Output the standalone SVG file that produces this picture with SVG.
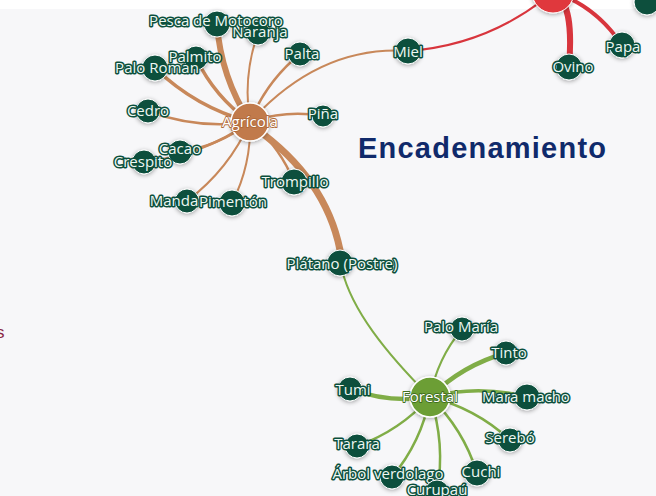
<svg xmlns="http://www.w3.org/2000/svg" width="656" height="496" viewBox="0 0 656 496">
<defs>
<filter id="sh" x="-50%" y="-50%" width="200%" height="200%">
<feDropShadow dx="0" dy="1" stdDeviation="2.2" flood-color="#000" flood-opacity="0.35"/>
</filter>
<style>
.ag{fill:none;stroke:#c8885a;stroke-linecap:round}
.fo{fill:none;stroke:#80ad47;stroke-linecap:round}
.rd{fill:none;stroke:#d8353d;stroke-linecap:round}
.n{fill:#0b4f3c;stroke:#ffffff;stroke-width:1;filter:url(#sh)}
.l{font-family:"Open Sans","Noto Sans",sans-serif;font-size:15px;fill:#eef7f3;stroke:#0b4f3c;stroke-width:3;paint-order:stroke;stroke-linejoin:round;text-anchor:middle}
.hl{font-family:"Open Sans","Noto Sans",sans-serif;font-size:15px;fill:#ffffff;stroke-width:1.8;paint-order:stroke;stroke-linejoin:round;text-anchor:middle}
</style>
</defs>
<rect x="0" y="0" width="656" height="496" fill="#f7f7f9"/>
<rect x="0" y="0" width="656" height="9" fill="#ffffff"/>
<g id="connectors">
<path class="ag" stroke-width="6" d="M250 122 A207 207 0 0 1 217 24"/>
<path class="ag" stroke-width="2" d="M250 122 A179 179 0 0 1 258 33"/>
<path class="ag" stroke-width="2.5" d="M250 122 A169 169 0 0 1 300 54"/>
<path class="ag" stroke-width="3.5" d="M250 122 A167 167 0 0 1 196 58"/>
<path class="ag" stroke-width="3.5" d="M250 122 A219 219 0 0 1 155 68"/>
<path class="ag" stroke-width="2.5" d="M250 122 A205 205 0 0 1 148 111"/>
<path class="ag" stroke-width="2.5" d="M250 122 A146 146 0 0 1 323 116"/>
<path class="ag" stroke-width="2.5" d="M250 122 A152 152 0 0 1 180 152"/>
<path class="ag" stroke-width="2.5" d="M250 122 A227 227 0 0 1 144 162"/>
<path class="ag" stroke-width="2.5" d="M250 122 A149 149 0 0 1 294 182"/>
<path class="ag" stroke-width="2" d="M250 122 A202 202 0 0 1 187 201"/>
<path class="ag" stroke-width="2" d="M250 122 A166 166 0 0 1 232 203"/>
<path class="ag" stroke-width="2" d="M250 122 Q320 45 408 51"/>
<path class="ag" stroke-width="7" d="M255 128 C300 160 330 200 340 250"/>
<path class="rd" stroke-width="2" d="M553 -8 Q490 45 408 51"/>
<path class="rd" stroke-width="6" d="M553 -8 C570 0 572 30 569 67"/>
<path class="rd" stroke-width="4" d="M553 -8 Q595 5 622 45"/>
<path class="fo" stroke-width="2" d="M342 270 C352 310 385 352 430 397"/>
<path class="fo" stroke-width="2" d="M430 397 A150 150 0 0 1 462 329"/>
<path class="fo" stroke-width="4.5" d="M430 397 A176 176 0 0 1 506 353"/>
<path class="fo" stroke-width="3.5" d="M430 397 A194 194 0 0 1 527 397"/>
<path class="fo" stroke-width="2.5" d="M430 397 A182 182 0 0 1 510 440"/>
<path class="fo" stroke-width="2.5" d="M430 397 A179 179 0 0 1 477 473"/>
<path class="fo" stroke-width="2.5" d="M430 397 A191 191 0 0 1 437 492"/>
<path class="fo" stroke-width="2.5" d="M430 397 A177 177 0 0 1 392 477"/>
<path class="fo" stroke-width="2.5" d="M430 397 A176 176 0 0 1 357 446"/>
<path class="fo" stroke-width="4.5" d="M430 397 A161 161 0 0 1 350 389"/>
</g>
<g id="n-red"><circle cx="553" cy="-8" r="21" fill="#e0393d" stroke="#fff" stroke-width="1" filter="url(#sh)"/></g>
<g id="n-topright"><circle class="n" cx="647" cy="2" r="13"/></g>
<g id="n-naranja"><circle class="n" cx="258" cy="33" r="12"/><text class="l" x="260" y="32" dy="0.35em">Naranja</text></g>
<g id="n-pesca"><circle class="n" cx="217" cy="24" r="13"/><text class="l" x="216" y="21" dy="0.35em">Pesca de Motocoro</text></g>
<g id="n-palta"><circle class="n" cx="300" cy="54" r="12"/><text class="l" x="302" y="54" dy="0.35em">Palta</text></g>
<g id="n-palmito"><circle class="n" cx="196" cy="58" r="12"/><text class="l" x="195" y="57" dy="0.35em">Palmito</text></g>
<g id="n-paloroman"><circle class="n" cx="155" cy="68" r="13"/><text class="l" x="157" y="68" dy="0.35em">Palo Roman</text></g>
<g id="n-cedro"><circle class="n" cx="148" cy="111" r="12"/><text class="l" x="148" y="111" dy="0.35em">Cedro</text></g>
<g id="n-pina"><circle class="n" cx="323" cy="116" r="11"/><text class="l" x="323" y="114" dy="0.35em">Piña</text></g>
<g id="n-cacao"><circle class="n" cx="180" cy="152" r="12"/><text class="l" x="180" y="149" dy="0.35em">Cacao</text></g>
<g id="n-crespito"><circle class="n" cx="144" cy="162" r="12"/><text class="l" x="143" y="162" dy="0.35em">Crespito</text></g>
<g id="n-trompillo"><circle class="n" cx="294" cy="182" r="13"/><text class="l" x="295" y="182" dy="0.35em">Trompillo</text></g>
<g id="n-manda"><circle class="n" cx="187" cy="201" r="12"/><text class="l" x="174" y="201" dy="0.35em">Manda</text></g>
<g id="n-pimenton"><circle class="n" cx="232" cy="203" r="13"/><text class="l" x="233" y="202" dy="0.35em">Pimentón</text></g>
<g id="n-agricola"><circle cx="250" cy="122" r="19" fill="#c17a4b" stroke="#fff" stroke-width="1.5" filter="url(#sh)"/><text class="hl" x="250" y="122" dy="0.35em" stroke="#b06a3a">Agrícola</text></g>
<g id="n-miel"><circle class="n" cx="408" cy="51" r="13"/><text class="l" x="408" y="52" dy="0.35em">Miel</text></g>
<g id="n-ovino"><circle class="n" cx="569" cy="67" r="13"/><text class="l" x="573" y="67" dy="0.35em">Ovino</text></g>
<g id="n-papa"><circle class="n" cx="622" cy="45" r="13"/><text class="l" x="623" y="47" dy="0.35em">Papa</text></g>
<g id="n-platano"><circle class="n" cx="340" cy="263" r="13"/><text class="l" x="342" y="264" dy="0.35em">Plátano (Postre)</text></g>
<g id="n-forestal"><circle cx="430" cy="397" r="20" fill="#6c9e34" stroke="#fff" stroke-width="1.5" filter="url(#sh)"/><text class="hl" x="430" y="397" dy="0.35em" stroke="#3f6f1f">Forestal</text></g>
<g id="n-palomaria"><circle class="n" cx="462" cy="329" r="12"/><text class="l" x="461" y="327" dy="0.35em">Palo María</text></g>
<g id="n-tinto"><circle class="n" cx="506" cy="353" r="12"/><text class="l" x="509" y="353" dy="0.35em">Tinto</text></g>
<g id="n-maramacho"><circle class="n" cx="527" cy="397" r="13"/><text class="l" x="526" y="397" dy="0.35em">Mara macho</text></g>
<g id="n-tumi"><circle class="n" cx="350" cy="389" r="12"/><text class="l" x="353" y="390" dy="0.35em">Tumi</text></g>
<g id="n-serebo"><circle class="n" cx="510" cy="440" r="12"/><text class="l" x="510" y="438" dy="0.35em">Serebó</text></g>
<g id="n-tarara"><circle class="n" cx="357" cy="446" r="12"/><text class="l" x="357" y="444" dy="0.35em">Tarara</text></g>
<g id="n-arbol"><circle class="n" cx="392" cy="477" r="12"/><text class="l" x="388" y="474" dy="0.35em">Árbol verdolago</text></g>
<g id="n-cuchi"><circle class="n" cx="477" cy="473" r="13"/><text class="l" x="481" y="472" dy="0.35em">Cuchi</text></g>
<g id="n-curupau"><circle class="n" cx="437" cy="492" r="12"/><text class="l" x="437" y="490" dy="0.35em">Curupaú</text></g>
<text x="358" y="158" font-family="Liberation Sans, Arial, sans-serif" font-size="29" font-weight="bold" fill="#102a6b" textLength="248" lengthAdjust="spacing">Encadenamiento</text>
<text x="-4" y="338" font-family="Liberation Sans, Arial, sans-serif" font-size="17" fill="#8a2846">s</text>
</svg>
